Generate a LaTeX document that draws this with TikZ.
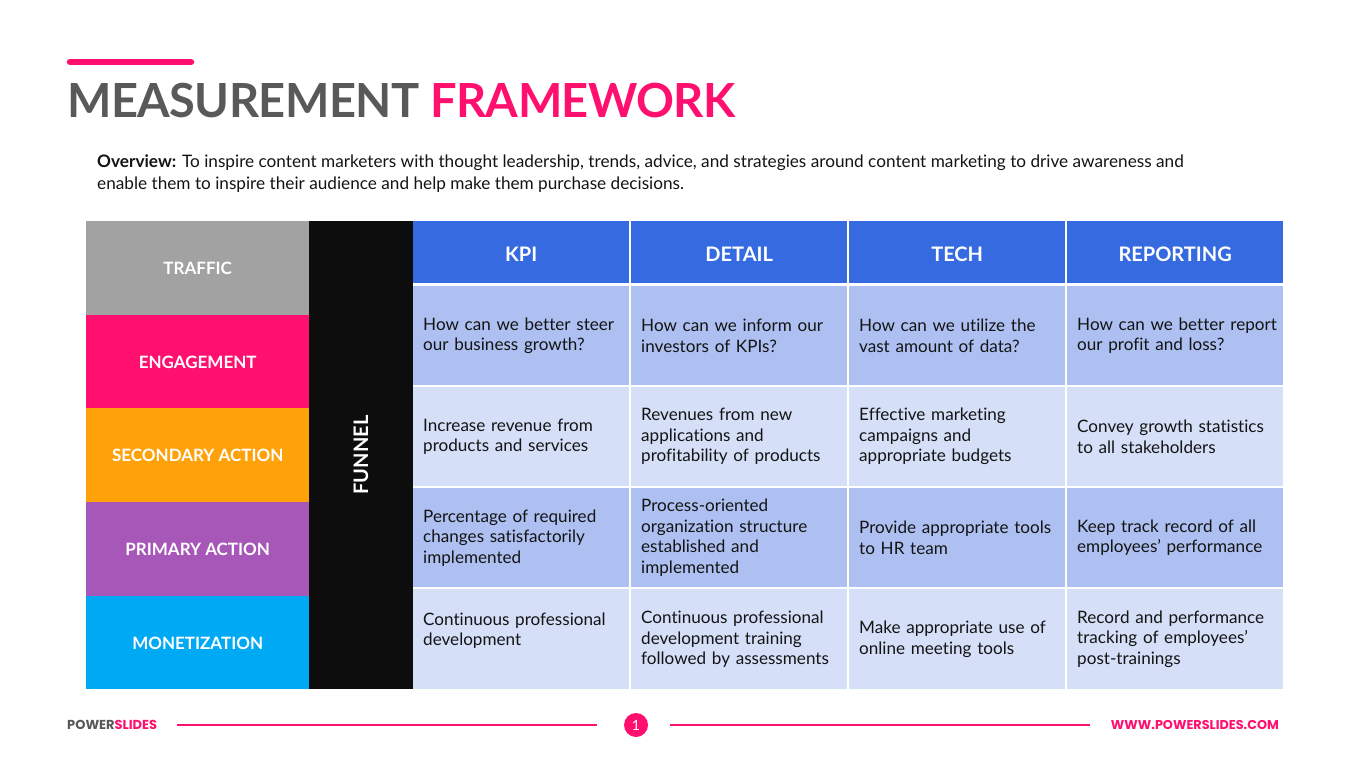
\documentclass[tikz,border=0pt]{standalone}
\usepackage{fontspec}
\setmainfont{Lato}[Ligatures=NoCommon]
\newfontfamily\titlefont{Lato}[LetterSpace=-1.2, Ligatures=NoCommon]
\newfontfamily\footfont{Poppins}
\definecolor{pinkc}{HTML}{FF0F6E}
\definecolor{titlegray}{HTML}{595959}
\definecolor{trafficc}{HTML}{A2A2A2}
\definecolor{secondc}{HTML}{FFA20A}
\definecolor{primaryc}{HTML}{A657B8}
\definecolor{monetc}{HTML}{00A9F4}
\definecolor{funnelc}{HTML}{0D0D0D}
\definecolor{hdrc}{HTML}{356AE0}
\definecolor{rowdark}{HTML}{ADC0F1}
\definecolor{rowlight}{HTML}{D5DFF8}
\definecolor{bodytext}{HTML}{141414}
\tikzset{
  lbl/.style={fill=#1, anchor=north west, minimum width=223, minimum height=93.6, inner sep=0,
    text height=13.2pt, text depth=0pt,
    text=white, font=\bfseries\fontsize{17}{20}\selectfont},
  hdr/.style={fill=hdrc, anchor=north west, minimum width=216, minimum height=62, inner sep=0,
    text height=18.4pt, text depth=0pt,
    text=white, font=\bfseries\fontsize{20}{24}\selectfont},
  cell/.style={fill=#1, anchor=north west, minimum width=216, minimum height=99, text width=196,
    inner xsep=10, inner ysep=0, align=left, text=bodytext, font=\fontsize{17.1}{20.5}\selectfont},
  footline/.style={draw=pinkc, line width=1.1pt}
}
\begin{document}
\begin{tikzpicture}[x=1pt,y=-1pt]
\useasboundingbox (0,0) rectangle (1365,767);
\fill[white] (0,0) rectangle (1365,767);
% top accent bar
\coordinate (barL) at (70,62);
\coordinate (barR) at (191,62);
\draw[pinkc, line width=6.5pt, line cap=round] (barL) -- (barR);
% title
\node[anchor=base west, inner sep=0, font=\titlefont\bfseries\fontsize{47}{52}\selectfont] (title) at (67,118)
  {\textcolor{titlegray}{MEASUREMENT} \textcolor{pinkc}{FRAMEWORK}};
% overview
\node[anchor=base west, inner sep=0, align=left, text=bodytext, font=\fontsize{17.2}{22}\selectfont] (overview) at (97,190)
  {\textbf{Overview:} To inspire content marketers with thought leadership, trends, advice, and strategies around content marketing to drive awareness and\\
   enable them to inspire their audience and help make them purchase decisions.};
% left labels
\node[lbl=trafficc] (traffic) at (86,221) {TRAFFIC};
\node[lbl=pinkc] (engage) at (86,314.6) {ENGAGEMENT};
\node[lbl=secondc] (second) at (86,408.2) {SECONDARY ACTION};
\node[lbl=primaryc] (primary) at (86,501.8) {PRIMARY ACTION};
\node[lbl=monetc] (monet) at (86,595.4) {MONETIZATION};
% funnel
\node[fill=funnelc, rotate=90, minimum width=468, minimum height=104, inner sep=0, text=white,
  font=\bfseries\fontsize{20}{24}\selectfont] (funnel) at (361,455) {FUNNEL};
% headers
\node[hdr] (hkpi) at (413,221) {KPI};
\node[hdr] (hdetail) at (631,221) {DETAIL};
\node[hdr] (htech) at (849,221) {TECH};
\node[hdr] (hrep) at (1067,221) {REPORTING};
% row 1
\node[cell=rowdark] (c11) at (413,286) {\makebox[196pt][s]{How can we better steer}\\our business growth?};
\node[cell=rowdark] (c12) at (631,286) {\mbox{How can we inform our}\\investors of KPIs?};
\node[cell=rowdark] (c13) at (849,286) {\mbox{How can we utilize the}\\vast amount of data?};
\node[cell=rowdark] (c14) at (1067,286) {\mbox{How can we better report}\\our profit and loss?};
% row 2
\node[cell=rowlight] (c21) at (413,387) {\mbox{Increase revenue from}\\products and services};
\node[cell=rowlight] (c22) at (631,387) {Revenues from new\\applications and\\\mbox{profitability of products}};
\node[cell=rowlight] (c23) at (849,387) {Effective marketing\\campaigns and\\appropriate budgets};
\node[cell=rowlight] (c24) at (1067,387) {\mbox{Convey growth statistics}\\to all stakeholders};
% row 3
\node[cell=rowdark] (c31) at (413,488) {\mbox{Percentage of required}\\changes satisfactorily\\implemented};
\node[cell=rowdark] (c32) at (631,488) {Process-oriented\\organization structure\\established and\\implemented};
\node[cell=rowdark] (c33) at (849,488) {\mbox{Provide appropriate tools}\\to HR team};
\node[cell=rowdark] (c34) at (1067,488) {\mbox{Keep track record of all}\\\mbox{employees’ performance}};
% row 4
\node[cell=rowlight, minimum height=100] (c41) at (413,589) {\mbox{Continuous professional}\\development\\\mbox{}};
\node[cell=rowlight, minimum height=100] (c42) at (631,589) {\mbox{Continuous professional}\\development training\\\mbox{followed by assessments}};
\node[cell=rowlight, minimum height=100] (c43) at (849,589) {\mbox{Make appropriate use of}\\online meeting tools};
\node[cell=rowlight, minimum height=100] (c44) at (1067,589) {\mbox{Record and performance}\\tracking of employees’\\post-trainings};
% footer
\node[anchor=base west, inner sep=0, font=\footfont\bfseries\fontsize{13}{15}\selectfont] (brand) at (67,729)
  {\textcolor{titlegray}{POWER}\textcolor{pinkc}{SLIDES}};
\node[circle, fill=pinkc, minimum size=24, inner sep=0, text=white, font=\fontsize{14}{16}\selectfont] (page) at (636,725) {1};
\node[anchor=base east, inner sep=0, text=pinkc, font=\footfont\bfseries\fontsize{12.8}{14}\selectfont] (url) at (1279,729) {WWW.POWERSLIDES.COM};
\coordinate (l1a) at (177,725);
\coordinate (l2b) at (1090,725);
\draw[footline] (l1a) -- ([xshift=-39pt]page.center);
\draw[footline] ([xshift=34pt]page.center) -- (l2b);
\end{tikzpicture}
\end{document}
